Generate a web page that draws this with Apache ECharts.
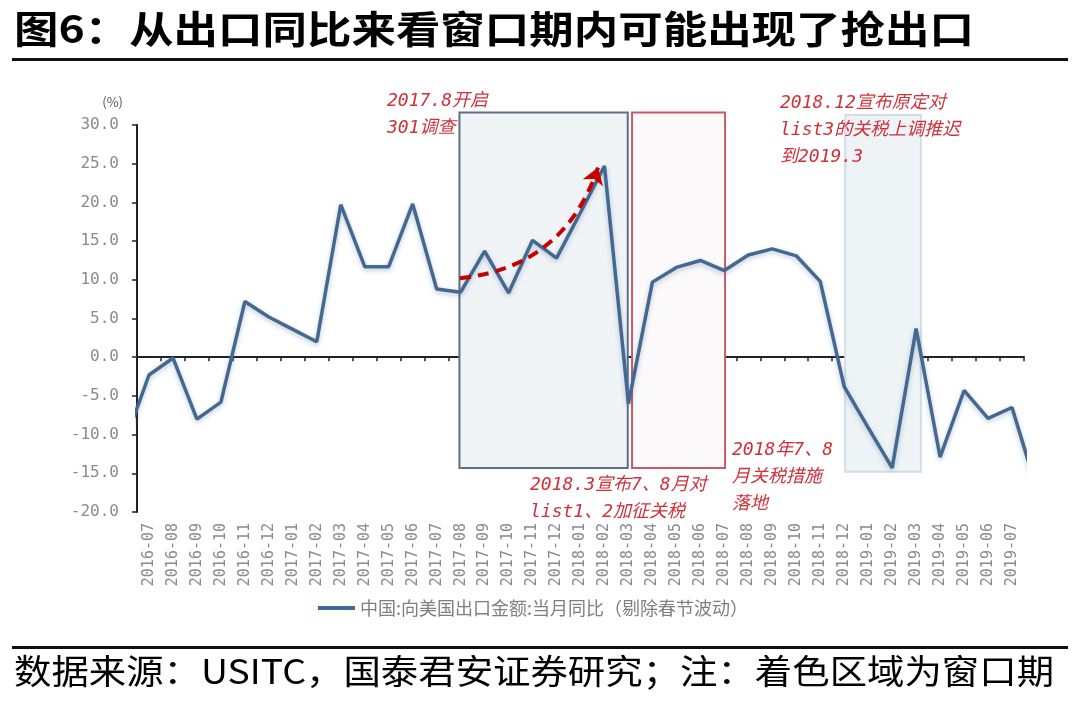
<!DOCTYPE html>
<html>
<head>
<meta charset="utf-8">
<script src="https://cdn.jsdelivr.net/npm/echarts@6/dist/echarts.min.js"></script>
<style>
  html, body {margin: 0; padding: 0; background: #fff;}
  #chart {width: 1080px; height: 710px;}
</style>
</head>
<body>
<div id="chart"></div>
<script>
// 月份
var months = ['2016-07','2016-08','2016-09','2016-10','2016-11','2016-12',
  '2017-01','2017-02','2017-03','2017-04','2017-05','2017-06','2017-07','2017-08','2017-09','2017-10','2017-11','2017-12',
  '2018-01','2018-02','2018-03','2018-04','2018-05','2018-06','2018-07','2018-08','2018-09','2018-10','2018-11','2018-12',
  '2019-01','2019-02','2019-03','2019-04','2019-05','2019-06','2019-07']
// 中国:向美国出口金额:当月同比（剔除春节波动），%
var exportYoY = [-2.3, -0.1, -8.0, -5.8, 7.2, 5.2,
  3.6, 2.0, 19.7, 11.7, 11.7, 19.8, 8.8, 8.4, 13.7, 8.3, 15.1, 12.8,
  18.7, 24.7, -6.0, 9.7, 11.6, 12.5, 11.2, 13.2, 14.0, 13.1, 9.8, -3.8,
  -9.1, -14.3, 3.7, -12.9, -4.3, -7.9, -6.5]
// 图外两端被截掉的点（2016-06, 2019-08）
var edgeBefore = -10.9
var edgeAfter = -16.7
var yTicks = {min: -20, max: 30, step: 5}
// 窗口期 [起, 止, 上, 下]（月份序号 / %）
var blueWindow = [12.95, 19.97, 31.6, -14.3]
var redWindow = [20.15, 24.03, 31.6, -14.3]
var lightWindow = [29.04, 32.2, 31.3, -14.8]
// 抢出口箭头 起点/终点
var arrowFrom = [12.97, 10.2]
var arrowTo = [18.73, 24.5]

var legendName = '中国:向美国出口金额:当月同比（剔除春节波动）'
var lineColor = '#44688f'
var red = '#d0303a'
var cjk = '"Noto Sans CJK SC", sans-serif'
var mono = '"DejaVu Sans Mono", monospace'
var boxStyles = [
  {fill: '#f0f4f6', stroke: '#5b7086'},
  {fill: '#fcf9fa', stroke: '#c95b69'},
  {fill: '#eef3f6', stroke: '#d2dee7'}
]

var lineData = [[-1, edgeBefore]]
exportYoY.forEach(function (v, i) { lineData.push([i, v]) })
lineData.push([months.length, edgeAfter])

function note(x, y, text){
  return {
    type: 'text', x: x, y: y, z: 20,
    style: {text: text, fill: red, font: 'italic 18px "DejaVu Sans Mono", "Noto Sans CJK SC"', lineHeight: 27}
  }
}

var chart = echarts.init(document.getElementById('chart'))
chart.setOption({
  backgroundColor: '#fff',
  animation: false,
  grid: {left: 137, right: 56, top: 125, bottom: 198},
  legend: {
    data: [{name: legendName, icon: 'rect'}],
    left: 313, top: 594,
    itemWidth: 37, itemHeight: 4, itemGap: 10,
    textStyle: {color: '#7f7f7f', fontSize: 18, fontFamily: cjk}
  },
  xAxis: [
    {
      type: 'value', min: -0.5, max: months.length - 0.5, interval: 1,
      axisLine: {onZero: true, lineStyle: {color: '#222', width: 2}},
      axisTick: {show: true, length: 4, lineStyle: {color: '#222', width: 1.5}},
      axisLabel: {show: false},
      splitLine: {show: false}
    },
    {
      type: 'category', data: months, boundaryGap: true, position: 'bottom',
      axisLine: {show: false, onZero: false},
      axisTick: {show: false},
      axisLabel: {rotate: 90, interval: 0, margin: 11, color: '#8a8a8a', fontSize: 15, fontFamily: mono}
    }
  ],
  yAxis: {
    type: 'value', min: yTicks.min, max: yTicks.max, interval: yTicks.step,
    name: '(%)', nameLocation: 'end', nameGap: 16,
    nameTextStyle: {color: '#555', fontSize: 13, fontFamily: cjk, align: 'right', padding: [0, 14, 0, 0]},
    axisLine: {show: true, onZero: false, lineStyle: {color: '#222', width: 2}},
    axisTick: {show: true, length: 5, lineStyle: {color: '#222', width: 1.5}},
    axisLabel: {margin: 18, color: '#8a8a8a', fontSize: 16, fontFamily: mono,
      formatter: function (v) { return v.toFixed(1) }},
    splitLine: {show: false}
  },
  series: [
    {
      name: 'window', type: 'custom', xAxisIndex: 0, z: 1, silent: true, clip: false,
      data: [blueWindow, redWindow, lightWindow],
      encode: {x: [0, 1], y: [2, 3]},
      renderItem: function (params, api) {
        var p0 = api.coord([api.value(0), api.value(2)])
        var p1 = api.coord([api.value(1), api.value(3)])
        var s = boxStyles[params.dataIndex]
        return {
          type: 'rect',
          shape: {x: p0[0], y: p0[1], width: p1[0] - p0[0], height: p1[1] - p0[1]},
          style: {fill: s.fill, stroke: s.stroke, lineWidth: 2}
        }
      }
    },
    {
      name: legendName, type: 'line', xAxisIndex: 0, data: lineData, z: 3,
      symbol: 'none', clip: true, color: lineColor,
      lineStyle: {color: lineColor, width: 3.5, shadowColor: 'rgba(60,100,150,0.35)', shadowBlur: 5, shadowOffsetY: 2}
    },
    {
      name: 'arrow', type: 'lines', coordinateSystem: 'cartesian2d', xAxisIndex: 0, z: 4,
      symbol: ['none', 'arrow'], symbolSize: 16,
      lineStyle: {color: '#c80000', width: 4, type: [11, 7], curveness: -0.32, opacity: 1},
      data: [{coords: [arrowFrom, arrowTo]}]
    }
  ],
  graphic: [
    {type: 'text', x: 14, y: 10, scaleX: 1.17, z: 20,
      style: {text: '图6：从出口同比来看窗口期内可能出现了抢出口', fill: '#000', font: 'bold 38px ' + cjk}},
    {type: 'rect', z: 20, shape: {x: 12, y: 58, width: 1056, height: 3}, style: {fill: '#111'}},
    {type: 'rect', z: 20, shape: {x: 12, y: 646, width: 1056, height: 3}, style: {fill: '#111'}},
    {type: 'text', x: 14, y: 654, scaleX: 1.1, z: 20,
      style: {text: '数据来源：USITC，国泰君安证券研究；注：着色区域为窗口期', fill: '#000', font: '34px ' + cjk}},
    note(387, 88, '2017.8开启\n301调查'),
    note(780, 90, '2018.12宣布原定对\nlist3的关税上调推迟\n到2019.3'),
    note(530, 472, '2018.3宣布7、8月对\nlist1、2加征关税'),
    note(732, 437, '2018年7、8\n月关税措施\n落地')
  ]
})
</script>
</body>
</html>
